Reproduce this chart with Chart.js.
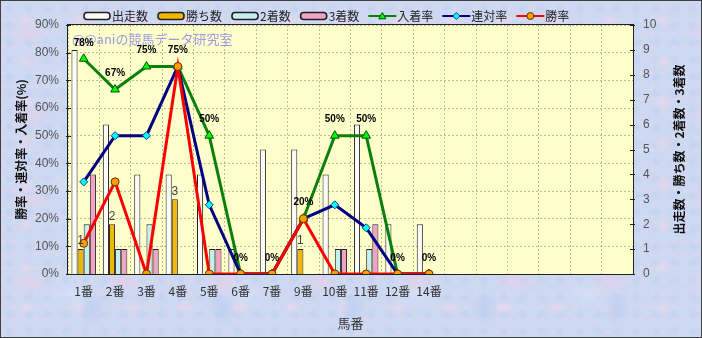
<!DOCTYPE html>
<html>
<head>
<meta charset="utf-8">
<script src="https://cdn.jsdelivr.net/npm/chart.js@4.4.0/dist/chart.umd.min.js"></script>
<style>
html, body { margin: 0; padding: 0; }
#wrap {
  width: 702px; height: 338px; position: relative;
  background-color: #cdd8f1;
  background-image:
    radial-gradient(ellipse 20px 12px at 30% 40%, rgba(232,208,234,.7), transparent),
    radial-gradient(ellipse 14px 18px at 70% 60%, rgba(184,204,240,.7), transparent),
    radial-gradient(ellipse 10px 8px at 50% 50%, rgba(236,216,238,.7), transparent),
    radial-gradient(ellipse 26px 16px at 40% 70%, rgba(216,228,248,.6), transparent),
    radial-gradient(ellipse 6px 5px at 50% 50%, rgba(190,208,242,.7), transparent),
    radial-gradient(ellipse 4px 3px at 30% 60%, rgba(230,214,240,.7), transparent);
  background-size: 97px 83px, 131px 67px, 53px 41px, 173px 109px, 19px 17px, 11px 13px;
  box-shadow: inset 0 0 0 1px #404040;
}
canvas { display: block; }
</style>
</head>
<body>
<div id="wrap"><canvas id="chart" width="702" height="338"></canvas></div>
<script>
// horse numbers (x categories) and the empty slots that follow them
const horses = ['1番', '2番', '3番', '4番', '5番', '6番', '7番', '9番', '10番', '11番', '12番', '14番'];
const blankSlots = 6;

// counts (right axis)
const runs    = [9, 6, 4, 4, 4, 1, 5, 5, 4, 6, 2, 2];
const wins    = [1, 2, 0, 3, 0, 0, 0, 1, 0, 0, 0, 0];
const seconds = [2, 1, 2, 0, 1, 0, 0, 0, 1, 1, 0, 0];
const thirds  = [4, 1, 1, 0, 1, 0, 0, 0, 1, 2, 0, 0];

// rates in % (left axis)
const placeRate    = [77.8, 66.7, 75, 75, 50, 0, 0, 20, 50, 50, 0, 0];
const quinellaRate = [33.3, 50, 50, 75, 25, 0, 0, 20, 25, 16.7, 0, 0];
const winRate      = [11.1, 33.3, 0, 75, 0, 0, 0, 20, 0, 0, 0, 0];

const pctMax = 90, pctStep = 10;
const cntMax = 10, cntStep = 1;

const JP = "'Noto Sans CJK JP', sans-serif";
const NUM = "'Liberation Sans', Arial, sans-serif";

const xLabels = horses.concat(Array(blankSlots).fill(''));

function barSet(label, data, color) {
  return {
    type: 'bar', label, data, yAxisID: 'yc', order: 10,
    backgroundColor: color, borderColor: '#202020', borderWidth: 1,
    categoryPercentage: 0.78, barPercentage: 1, kind: 'bar'
  };
}

function lineSet(label, data, color, style, fill, edge, radius, order) {
  return {
    type: 'line', label, data, yAxisID: 'yp', order,
    borderColor: color, borderWidth: 3, tension: 0,
    pointStyle: style, pointRadius: radius, pointHoverRadius: radius,
    pointBackgroundColor: fill, pointBorderColor: edge, pointBorderWidth: 1,
    kind: 'line'
  };
}

const datasets = [
  barSet('出走数', runs, '#fbfbfb'),
  barSet('勝ち数', wins, '#f2b705'),
  barSet('2着数', seconds, '#c4f0f0'),
  barSet('3着数', thirds, '#f2a2c8'),
  lineSet('入着率', placeRate, '#0a800a', 'triangle', '#00ff00', '#005000', 5, 3),
  lineSet('連対率', quinellaRate, '#000080', 'rectRot', '#00ffff', '#004080', 4, 2),
  lineSet('勝率', winRate, '#ff0000', 'circle', '#ffa000', '#603000', 4, 1)
];

function drawMarker(ctx, style, x, y, fill, edge, r) {
  ctx.save();
  ctx.fillStyle = fill; ctx.strokeStyle = edge; ctx.lineWidth = 1;
  ctx.beginPath();
  if (style === 'triangle') {
    ctx.moveTo(x, y - r); ctx.lineTo(x + r, y + r * 0.8); ctx.lineTo(x - r, y + r * 0.8); ctx.closePath();
  } else if (style === 'rectRot') {
    ctx.moveTo(x, y - r); ctx.lineTo(x + r, y); ctx.lineTo(x, y + r); ctx.lineTo(x - r, y); ctx.closePath();
  } else {
    ctx.arc(x, y, r, 0, Math.PI * 2);
  }
  ctx.fill(); ctx.stroke();
  ctx.restore();
}

const decor = {
  id: 'decor',
  beforeDraw(chart) {
    const { ctx, chartArea: a } = chart;
    ctx.save();
    ctx.fillStyle = '#ffffcc';
    ctx.fillRect(a.left, a.top, a.right - a.left, a.bottom - a.top);
    ctx.restore();
  },
  beforeDatasetsDraw(chart) {
    const { ctx, chartArea: a } = chart;
    ctx.save();
    ctx.font = '13px ' + JP;
    ctx.fillStyle = 'rgba(120,120,238,0.75)';
    ctx.textBaseline = 'middle';
    ctx.fillText('@@aniの競馬データ研究室', a.left + 4, a.top + 14);
    ctx.restore();
  },
  afterDatasetsDraw(chart) {
    const { ctx } = chart;
    ctx.save();
    ctx.textAlign = 'center';
    ctx.textBaseline = 'middle';
    // % labels over the 入着率 points
    ctx.font = 'bold 10px ' + NUM;
    ctx.fillStyle = '#000';
    chart.getDatasetMeta(4).data.forEach((p, i) => {
      ctx.fillText(Math.round(placeRate[i]) + '%', p.x, p.y - 16);
    });
    // win count labels over the 勝ち数 bars
    ctx.font = '12px ' + NUM;
    ctx.fillStyle = '#404040';
    chart.getDatasetMeta(1).data.forEach((b, i) => {
      if (wins[i] > 0) ctx.fillText(String(wins[i]), b.x, b.y - 8);
    });
    ctx.restore();
  },
  afterDraw(chart) {
    const { ctx, chartArea: a, scales } = chart;
    ctx.save();
    // plot frame
    ctx.strokeStyle = '#202020';
    ctx.lineWidth = 1;
    ctx.strokeRect(a.left - 0.5, a.top - 0.5, a.right - a.left + 1, a.bottom - a.top + 1);
    // small inner tick marks
    ctx.beginPath();
    scales.yp.ticks.forEach(t => {
      const y = Math.round(scales.yp.getPixelForValue(t.value)) + 0.5;
      ctx.moveTo(a.left - 2, y); ctx.lineTo(a.left + 3, y);
    });
    scales.yc.ticks.forEach(t => {
      const y = Math.round(scales.yc.getPixelForValue(t.value)) + 0.5;
      ctx.moveTo(a.right - 3, y); ctx.lineTo(a.right + 2, y);
    });
    ctx.stroke();

    // axis titles
    ctx.fillStyle = '#111';
    ctx.textAlign = 'center';
    ctx.textBaseline = 'middle';
    ctx.font = 'bold 12px ' + JP;
    const midY = (a.top + a.bottom) / 2;
    ctx.save();
    ctx.translate(21, midY); ctx.rotate(-Math.PI / 2);
    ctx.fillText('勝率・連対率・入着率(%)', 0, 0);
    ctx.restore();
    ctx.save();
    ctx.translate(679, midY); ctx.rotate(-Math.PI / 2);
    ctx.fillText('出走数・勝ち数・2着数・3着数', 0, 0);
    ctx.restore();
    ctx.font = '13px ' + JP;
    ctx.fillStyle = '#333';
    ctx.fillText('馬番', (a.left + a.right) / 2, 323);

    // legend
    ctx.font = '12px ' + JP;
    ctx.textAlign = 'left';
    let x = 83;
    const ly = 16;
    chart.data.datasets.forEach(ds => {
      if (ds.kind === 'bar') {
        ctx.beginPath();
        ctx.roundRect(x + 1, ly - 3.5, 26, 7, 3);
        ctx.fillStyle = ds.backgroundColor;
        ctx.fill();
        ctx.lineWidth = 1.6;
        ctx.strokeStyle = '#202020';
        ctx.stroke();
      } else {
        ctx.beginPath();
        ctx.moveTo(x, ly); ctx.lineTo(x + 28, ly);
        ctx.lineWidth = 2;
        ctx.strokeStyle = ds.borderColor;
        ctx.stroke();
        drawMarker(ctx, ds.pointStyle, x + 14, ly, ds.pointBackgroundColor, ds.pointBorderColor, 3.5);
      }
      ctx.fillStyle = '#222';
      ctx.fillText(ds.label, x + 29, ly);
      x += 29 + ctx.measureText(ds.label).width + 9;
    });
    ctx.restore();
  }
};

new Chart(document.getElementById('chart'), {
  type: 'bar',
  data: { labels: xLabels, datasets },
  options: {
    responsive: false,
    animation: false,
    layout: { padding: { top: 25, left: 0, right: 0, bottom: 0 } },
    plugins: { legend: { display: false }, tooltip: { enabled: false } },
    scales: {
      x: {
        grid: { color: 'rgba(120,120,120,0.5)', drawTicks: false, offset: true },
        border: { display: false, dash: [2, 2] },
        ticks: { font: { family: JP, size: 12 }, color: '#333', padding: 10, maxRotation: 0, autoSkip: false },
        afterFit(s) { s.height = 64; }
      },
      yp: {
        position: 'left', min: 0, max: pctMax,
        grid: { color: 'rgba(120,120,120,0.5)', drawTicks: false },
        border: { display: false, dash: [2, 2] },
        ticks: { stepSize: pctStep, font: { family: NUM, size: 12 }, color: '#555', padding: 9, callback: v => v + '%' },
        afterFit(s) { s.width = 68; }
      },
      yc: {
        position: 'right', min: 0, max: cntMax,
        grid: { display: false, drawTicks: false },
        border: { display: false },
        ticks: { stepSize: cntStep, font: { family: NUM, size: 12 }, color: '#555', padding: 10 },
        afterFit(s) { s.width = 69; }
      }
    }
  },
  plugins: [decor]
});
</script>
</body>
</html>
